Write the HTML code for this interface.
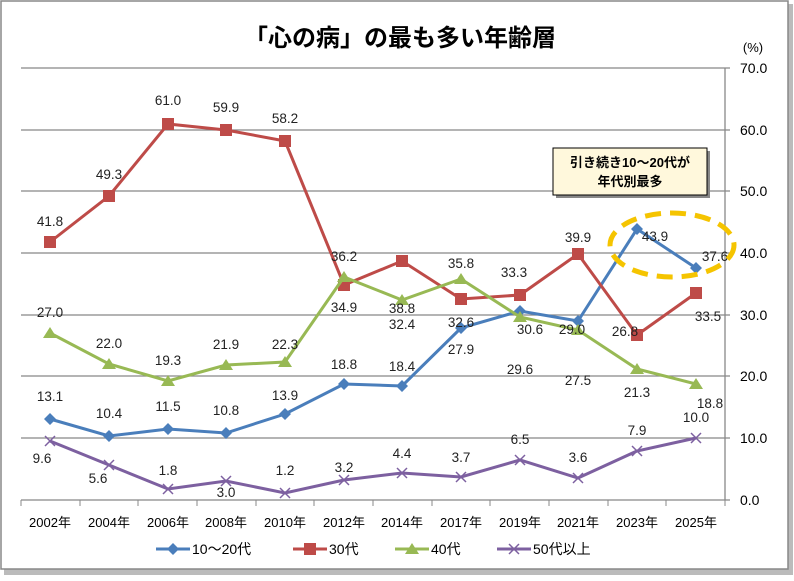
<!DOCTYPE html>
<html><head><meta charset="utf-8"><style>
html,body{margin:0;padding:0;background:#fff;}
svg text{font-family:"Liberation Sans","Noto Sans CJK JP",sans-serif;}
</style></head><body>
<svg width="794" height="576" viewBox="0 0 794 576" xmlns="http://www.w3.org/2000/svg">
<rect x="0" y="0" width="794" height="576" fill="#fff"/>
<rect x="4" y="4" width="789" height="571" fill="#bbb"/>
<rect x="1" y="1" width="787" height="568" fill="#fff" stroke="#888" stroke-width="1.5"/>
<text x="400" y="46" font-size="24" font-weight="bold" text-anchor="middle" fill="#000">「心の病」の最も多い年齢層</text>
<text x="753" y="52" font-size="13" text-anchor="middle">(%)</text>
<g stroke="#888" stroke-width="1.3">
<line x1="21" y1="68" x2="730" y2="68"/><line x1="21" y1="130" x2="730" y2="130"/>
<line x1="21" y1="191" x2="730" y2="191"/><line x1="21" y1="253" x2="730" y2="253"/>
<line x1="21" y1="315" x2="730" y2="315"/><line x1="21" y1="376" x2="730" y2="376"/>
<line x1="21" y1="438" x2="730" y2="438"/><line x1="21" y1="500" x2="730" y2="500"/>
<line x1="725" y1="68" x2="725" y2="500"/>
</g>
<g stroke="#888" stroke-width="1">
<line x1="21" y1="500" x2="21" y2="506"/><line x1="80" y1="500" x2="80" y2="506"/><line x1="138" y1="500" x2="138" y2="506"/><line x1="197" y1="500" x2="197" y2="506"/><line x1="256" y1="500" x2="256" y2="506"/><line x1="314" y1="500" x2="314" y2="506"/><line x1="373" y1="500" x2="373" y2="506"/><line x1="432" y1="500" x2="432" y2="506"/><line x1="490" y1="500" x2="490" y2="506"/><line x1="549" y1="500" x2="549" y2="506"/><line x1="608" y1="500" x2="608" y2="506"/><line x1="666" y1="500" x2="666" y2="506"/><line x1="725" y1="500" x2="725" y2="506"/>
</g>
<g font-size="14" fill="#000">
<text x="740" y="73">70.0</text><text x="740" y="135">60.0</text><text x="740" y="196">50.0</text><text x="740" y="258">40.0</text><text x="740" y="320">30.0</text><text x="740" y="381">20.0</text><text x="740" y="443">10.0</text><text x="740" y="505">0.0</text>
</g>
<g font-size="13" text-anchor="middle" fill="#000">
<text x="50" y="527">2002年</text><text x="109" y="527">2004年</text><text x="168" y="527">2006年</text><text x="226" y="527">2008年</text><text x="285" y="527">2010年</text><text x="344" y="527">2012年</text><text x="402" y="527">2014年</text><text x="461" y="527">2017年</text><text x="520" y="527">2019年</text><text x="578" y="527">2021年</text><text x="637" y="527">2023年</text><text x="696" y="527">2025年</text>
</g>
<polyline fill="none" stroke="#4a7ebb" stroke-width="3" points="50,419 109,436 168,429 226,433 285,414 344,384 402,386 461,328 520,311 578,321 637,229 696,268"/>
<g fill="#4a7ebb">
<path d="M50,413 l6,6 -6,6 -6,-6z M109,430 l6,6 -6,6 -6,-6z M168,423 l6,6 -6,6 -6,-6z M226,427 l6,6 -6,6 -6,-6z M285,408 l6,6 -6,6 -6,-6z M344,378 l6,6 -6,6 -6,-6z M402,380 l6,6 -6,6 -6,-6z M461,322 l6,6 -6,6 -6,-6z M520,305 l6,6 -6,6 -6,-6z M578,315 l6,6 -6,6 -6,-6z M637,223 l6,6 -6,6 -6,-6z M696,262 l6,6 -6,6 -6,-6z"/>
</g>
<polyline fill="none" stroke="#be4b48" stroke-width="3" points="50,242 109,196 168,124 226,130 285,141 344,285 402,261 461,299 520,295 578,254 637,335 696,293"/>
<g fill="#be4b48">
<rect x="44" y="236" width="12" height="12"/><rect x="103" y="190" width="12" height="12"/><rect x="162" y="118" width="12" height="12"/><rect x="220" y="124" width="12" height="12"/><rect x="279" y="135" width="12" height="12"/><rect x="338" y="279" width="12" height="12"/><rect x="396" y="255" width="12" height="12"/><rect x="455" y="293" width="12" height="12"/><rect x="514" y="289" width="12" height="12"/><rect x="572" y="248" width="12" height="12"/><rect x="631" y="329" width="12" height="12"/><rect x="690" y="287" width="12" height="12"/>
</g>
<polyline fill="none" stroke="#98b954" stroke-width="3" points="50,333 109,364 168,381 226,365 285,362 344,277 402,300 461,279 520,317 578,330 637,369 696,384"/>
<g fill="#98b954">
<path d="M50,327 l7,11 h-14z M109,358 l7,11 h-14z M168,375 l7,11 h-14z M226,359 l7,11 h-14z M285,356 l7,11 h-14z M344,271 l7,11 h-14z M402,294 l7,11 h-14z M461,273 l7,11 h-14z M520,311 l7,11 h-14z M578,324 l7,11 h-14z M637,363 l7,11 h-14z M696,378 l7,11 h-14z"/>
</g>
<polyline fill="none" stroke="#7d60a0" stroke-width="3" points="50,441 109,465 168,489 226,481 285,493 344,480 402,473 461,477 520,460 578,478 637,451 696,438"/>
<g stroke="#7d60a0" stroke-width="1.5">
<path d="M45,436l10,10M55,436l-10,10 M104,460l10,10M114,460l-10,10 M163,484l10,10M173,484l-10,10 M221,476l10,10M231,476l-10,10 M280,488l10,10M290,488l-10,10 M339,475l10,10M349,475l-10,10 M397,468l10,10M407,468l-10,10 M456,472l10,10M466,472l-10,10 M515,455l10,10M525,455l-10,10 M573,473l10,10M583,473l-10,10 M632,446l10,10M642,446l-10,10 M691,433l10,10M701,433l-10,10"/>
</g>
<g font-size="13.5" text-anchor="middle" fill="#222">
<text x="50" y="401">13.1</text><text x="109" y="418">10.4</text><text x="168" y="411">11.5</text><text x="226" y="415">10.8</text><text x="285" y="400">13.9</text><text x="344" y="369">18.8</text><text x="402" y="371">18.4</text><text x="461" y="354">27.9</text><text x="530" y="334">30.6</text><text x="572" y="334">29.0</text><text x="655" y="241">43.9</text><text x="715" y="261">37.6</text>
<text x="50" y="226">41.8</text><text x="109" y="179">49.3</text><text x="168" y="105">61.0</text><text x="226" y="112">59.9</text><text x="285" y="123">58.2</text><text x="344" y="312">34.9</text><text x="402" y="313">38.8</text><text x="461" y="327">32.6</text><text x="514" y="277">33.3</text><text x="578" y="242">39.9</text><text x="625" y="336">26.8</text><text x="708" y="321">33.5</text>
<text x="50" y="317">27.0</text><text x="109" y="348">22.0</text><text x="168" y="365">19.3</text><text x="226" y="349">21.9</text><text x="285" y="349">22.3</text><text x="344" y="261">36.2</text><text x="402" y="329">32.4</text><text x="461" y="268">35.8</text><text x="520" y="374">29.6</text><text x="578" y="385">27.5</text><text x="637" y="397">21.3</text><text x="710" y="408">18.8</text>
<text x="42" y="463">9.6</text><text x="98" y="483">5.6</text><text x="168" y="475">1.8</text><text x="226" y="497">3.0</text><text x="285" y="475">1.2</text><text x="344" y="472">3.2</text><text x="402" y="458">4.4</text><text x="461" y="462">3.7</text><text x="520" y="444">6.5</text><text x="578" y="462">3.6</text><text x="637" y="435">7.9</text><text x="696" y="422">10.0</text>
</g>
<rect x="556" y="151" width="154" height="47" fill="#888"/>
<rect x="553" y="148" width="154" height="47" fill="#fff8dc" stroke="#000" stroke-width="1"/>
<text x="630" y="167" font-size="13" font-weight="bold" text-anchor="middle">引き続き10～20代が</text>
<text x="630" y="186" font-size="13" font-weight="bold" text-anchor="middle">年代別最多</text>
<ellipse cx="672" cy="245" rx="62" ry="32" fill="none" stroke="#f5c400" stroke-width="5" stroke-dasharray="16,9"/>
<g font-size="14" fill="#000">
<line x1="156" y1="549" x2="190" y2="549" stroke="#4a7ebb" stroke-width="3"/><path d="M173,543l6,6-6,6-6-6z" fill="#4a7ebb"/><text x="192" y="554">10～20代</text>
<line x1="293" y1="549" x2="327" y2="549" stroke="#be4b48" stroke-width="3"/><rect x="304" y="543" width="12" height="12" fill="#be4b48"/><text x="329" y="554">30代</text>
<line x1="395" y1="549" x2="429" y2="549" stroke="#98b954" stroke-width="3"/><path d="M412,543l7,11h-14z" fill="#98b954"/><text x="431" y="554">40代</text>
<line x1="497" y1="549" x2="531" y2="549" stroke="#7d60a0" stroke-width="3"/><path d="M509,544l10,10M519,544l-10,10" stroke="#7d60a0" stroke-width="1.5"/><text x="533" y="554">50代以上</text>
</g>
</svg>
</body></html>
